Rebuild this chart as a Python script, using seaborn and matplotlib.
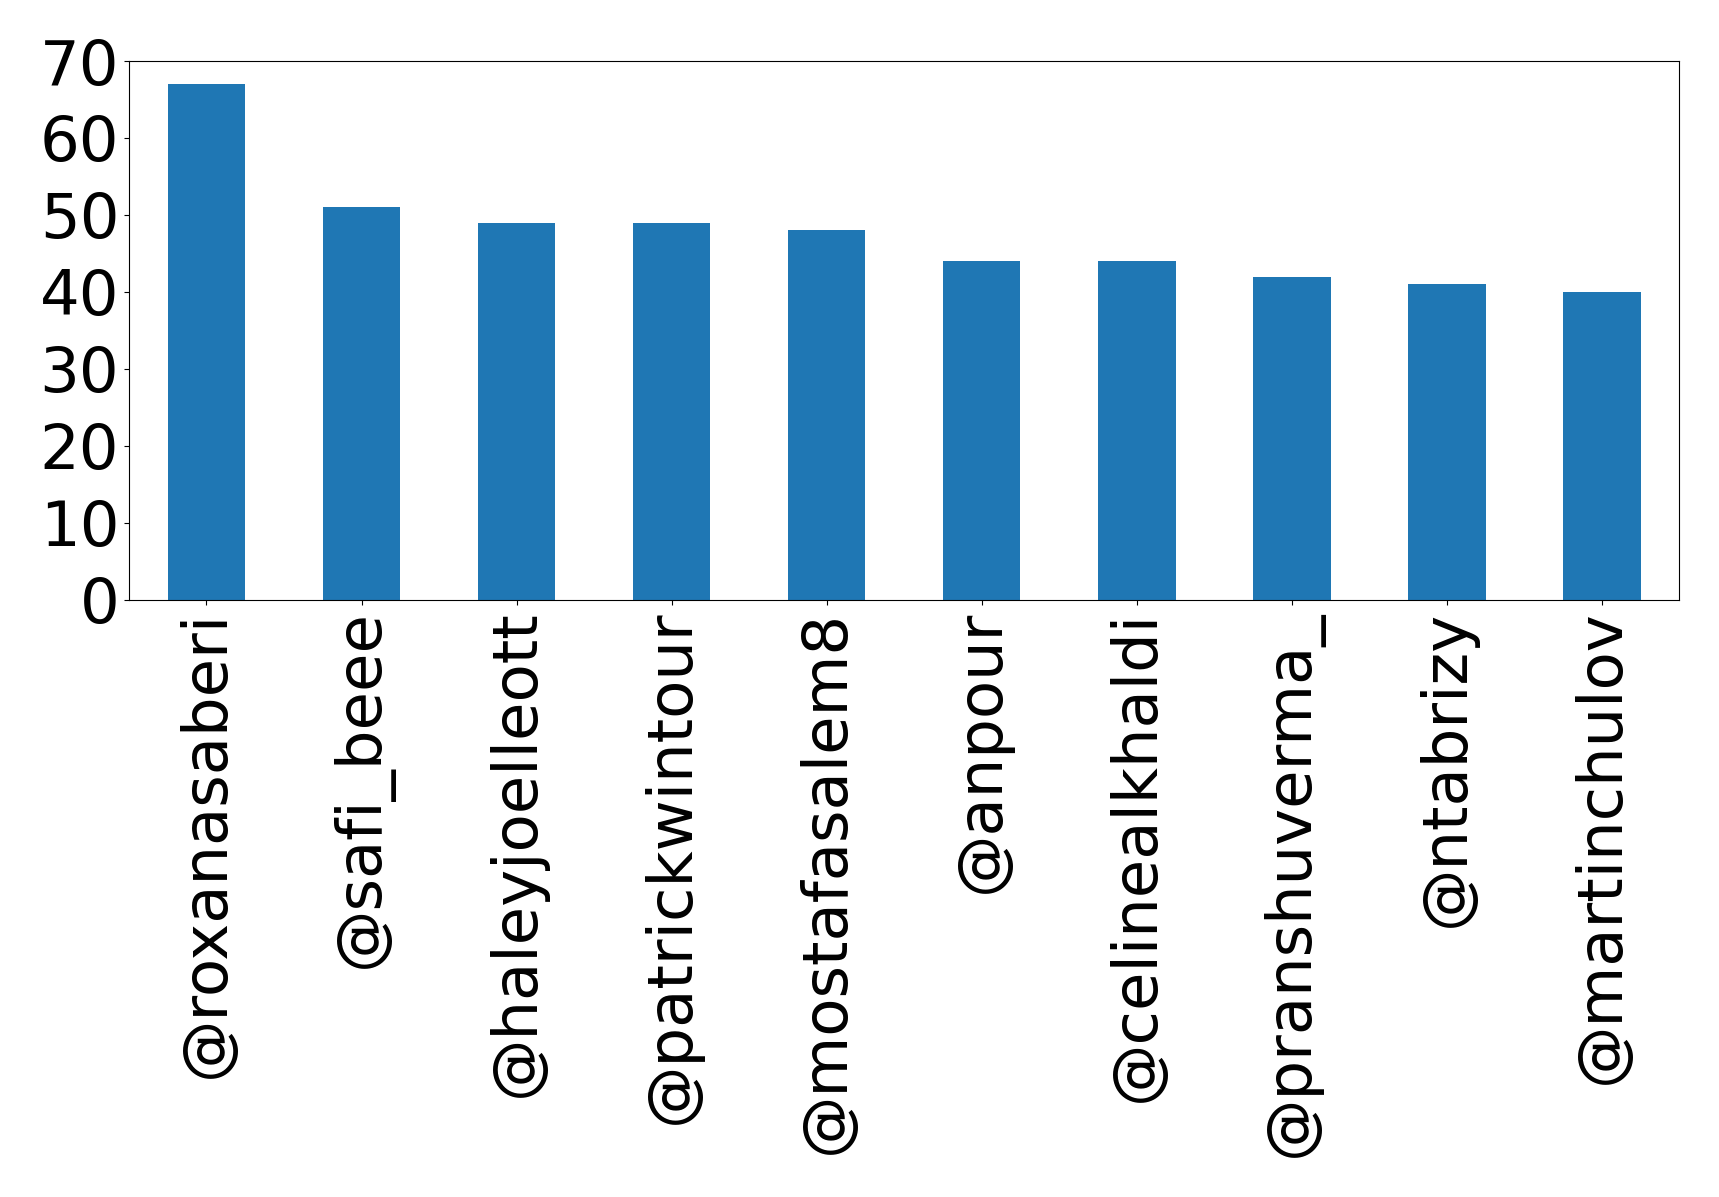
import matplotlib
matplotlib.use("Agg")
import matplotlib.pyplot as plt
import seaborn as sns

accounts = ["@roxanasaberi", "@safi_beee", "@haleyjoelleott", "@patrickwintour",
            "@mostafasalem8", "@anpour", "@celinealkhaldi", "@pranshuverma_",
            "@ntabrizy", "@martinchulov"]
counts = [67, 51, 49, 49, 48, 44, 44, 42, 41, 40]
yticks = [0, 10, 20, 30, 40, 50, 60, 70]

fig, ax = plt.subplots(figsize=(17.19, 11.97), dpi=100)
fig.subplots_adjust(left=0.075, right=0.977, top=0.949, bottom=0.499)

sns.barplot(x=accounts, y=counts, color="#1f77b4", saturation=1, width=0.5, ax=ax)

ax.set_xlim(-0.5, 9.5)
ax.set_ylim(0, 70)
ax.set_yticks(yticks)
ax.tick_params(axis="both", labelsize=45)
ax.tick_params(axis="x", labelrotation=90)

plt.savefig("out.png", dpi=100)
